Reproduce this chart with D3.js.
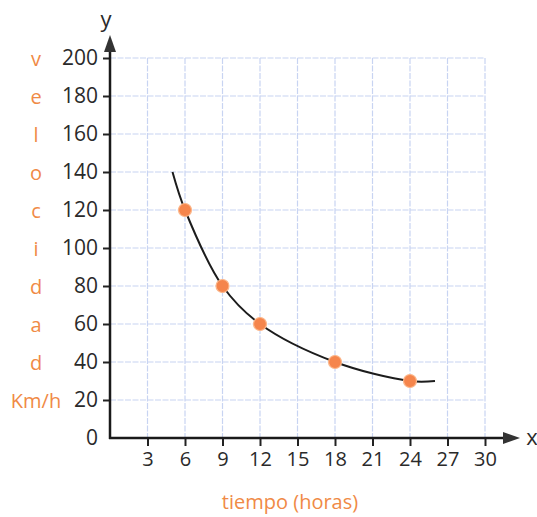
<!DOCTYPE html>
<html><head><meta charset="utf-8">
<script src="https://cdn.jsdelivr.net/npm/d3@7/dist/d3.min.js"></script>
<style>body{margin:0;background:#fff}svg{display:block}</style>
</head><body>
<script>
const xTicks = [3,6,9,12,15,18,21,24,27,30];
const yTicks = [0,20,40,60,80,100,120,140,160,180,200];
const pointsX = [6,9,12,18,24];
const pointsY = [120,80,60,40,30];
const curveX = [5,6,9,12,18,24,26];
const curveY = [140,120,80,60,40,30,30];
const yLetters = ["v","e","l","o","c","i","d","a","d","Km/h"];
const letterRows = [200,180,160,140,120,100,80,60,40,20];
const xTitle = "tiempo (horas)";

const W=537,H=517;
const svg=d3.select("body").append("svg").attr("width",W).attr("height",H);
const x=d3.scaleLinear().domain([0,30]).range([110,485]);
const y=d3.scaleLinear().domain([0,200]).range([438,58]);
const font="'Open Sans', sans-serif";
const orange="#f08a46";
const gridC="#c8d4f2";
const wt=400;

// grid
const g=svg.append("g");
g.selectAll("line.v").data(xTicks).join("line")
 .attr("x1",d=>x(d)).attr("x2",d=>x(d)).attr("y1",y(200)).attr("y2",y(0))
 .attr("stroke",gridC).attr("stroke-width",1.2).attr("stroke-dasharray","6,1.5");
g.selectAll("line.h").data(yTicks.filter(d=>d>0)).join("line")
 .attr("x1",x(0)).attr("x2",x(30)).attr("y1",d=>y(d)).attr("y2",d=>y(d))
 .attr("stroke",gridC).attr("stroke-width",1.2).attr("stroke-dasharray","6,1.5");

// axes via d3 axis
const xAxis=svg.append("g").attr("transform",`translate(0,${y(0)})`)
 .call(d3.axisBottom(x).tickValues(xTicks).tickSize(8).tickPadding(6));
xAxis.select(".domain").remove();
xAxis.selectAll("line").attr("stroke","#222").attr("stroke-width",2);
xAxis.selectAll("text").attr("font-family",font).attr("font-weight",wt).attr("font-size",20).attr("fill","#2a2a2a");

const yAxis=svg.append("g").attr("transform",`translate(${x(0)},0)`)
 .call(d3.axisLeft(y).tickValues(yTicks).tickSize(7).tickPadding(5));
yAxis.select(".domain").remove();
yAxis.selectAll("line").attr("stroke","#222").attr("stroke-width",2);
yAxis.selectAll(".tick").filter(d=>d===0).select("line").remove();
yAxis.selectAll("text").attr("font-family",font).attr("font-weight",wt).attr("font-size",21).attr("fill","#2a2a2a");

// axis lines with arrows
svg.append("line").attr("x1",x(0)).attr("x2",x(0)).attr("y1",y(0)+1).attr("y2",48)
 .attr("stroke","#1a1a1a").attr("stroke-width",2.5);
svg.append("path").attr("d",`M${x(0)},35 L${x(0)-6},52 L${x(0)+6},52 Z`).attr("fill","#333");
svg.append("line").attr("x1",x(0)-1).attr("x2",508).attr("y1",y(0)).attr("y2",y(0))
 .attr("stroke","#1a1a1a").attr("stroke-width",2.5);
svg.append("path").attr("d",`M520,${y(0)} L503,${y(0)-6} L503,${y(0)+6} Z`).attr("fill","#333");
svg.append("text").attr("x",106).attr("y",27).attr("text-anchor","middle")
 .attr("font-family",font).attr("font-weight",wt).attr("font-size",22).attr("fill","#2a2a2a").text("y");
svg.append("text").attr("x",532).attr("y",y(0)+7).attr("text-anchor","middle")
 .attr("font-family",font).attr("font-weight",wt).attr("font-size",22).attr("fill","#2a2a2a").text("x");

// orange axis titles
svg.selectAll("text.yl").data(yLetters).join("text")
 .attr("x",36).attr("y",(d,i)=>y(letterRows[i])+8)
 .attr("text-anchor","middle").attr("font-family",font).attr("font-weight",wt).attr("font-size",20).attr("fill",orange)
 .text(d=>d);
svg.append("text").attr("x",290).attr("y",509).attr("text-anchor","middle")
 .attr("font-family",font).attr("font-weight",wt).attr("font-size",20).attr("fill",orange).text(xTitle);

// curve
const cdata=curveX.map((d,i)=>[d,curveY[i]]);
svg.append("path").datum(cdata)
 .attr("d",d3.line().x(d=>x(d[0])).y(d=>y(d[1])).curve(d3.curveCatmullRom.alpha(0.5)))
 .attr("fill","none").attr("stroke","#1c1c1c").attr("stroke-width",2);

// points
svg.selectAll("circle.p").data(pointsX.map((d,i)=>[d,pointsY[i]])).join("circle")
 .attr("cx",d=>x(d[0])).attr("cy",d=>y(d[1])).attr("r",6.5)
 .attr("fill","#f5854c").attr("stroke","#fbb68a").attr("stroke-width",1.2);
</script>
</body></html>
